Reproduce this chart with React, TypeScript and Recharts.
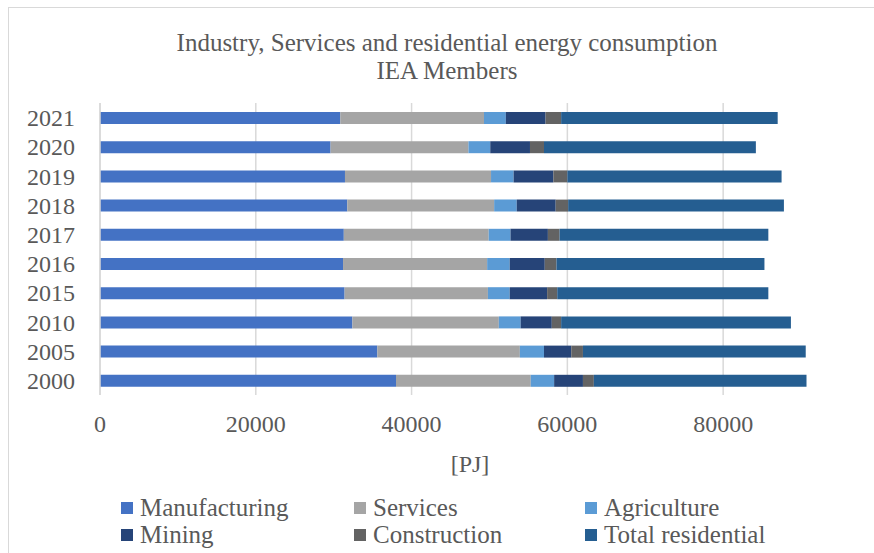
import { Bar, BarChart, CartesianGrid, XAxis, YAxis } from "recharts";

const years = ["2021", "2020", "2019", "2018", "2017", "2016", "2015", "2010", "2005", "2000"];
const manufacturing = [30850, 29600, 31450, 31750, 31300, 31200, 31400, 32400, 35600, 38000];
const services = [18450, 17700, 18750, 18850, 18600, 18500, 18400, 18800, 18300, 17300];
const agriculture = [2800, 2800, 2900, 2900, 2800, 2900, 2800, 2800, 3100, 3000];
const mining = [5100, 5100, 5100, 5000, 4800, 4500, 4800, 4000, 3500, 3700];
const construction = [2000, 1800, 1800, 1600, 1500, 1500, 1300, 1200, 1500, 1400];
const residential = [27800, 27200, 27500, 27700, 26800, 26700, 27100, 29500, 28600, 27300];
const xTicks = [0, 20000, 40000, 60000, 80000];

const series = [
  { key: "Manufacturing", values: manufacturing, color: "#4472C4" },
  { key: "Services", values: services, color: "#A5A5A5" },
  { key: "Agriculture", values: agriculture, color: "#5B9BD5" },
  { key: "Mining", values: mining, color: "#264478" },
  { key: "Construction", values: construction, color: "#636363" },
  { key: "Total residential", values: residential, color: "#255E91" }
];

const data = years.map((year, i) => {
  const row: Record<string, string | number> = { year };
  series.forEach((s) => {
    row[s.key] = s.values[i];
  });
  return row;
});

const font = "'Liberation Serif', 'DejaVu Serif', serif";
const textColor = "#595959";

// legend: 3 columns, 2 rows
const legendCols = [121, 354, 585];
const legendRows = [508, 535];

export default function App() {
  return (
    <div
      style={{
        position: "absolute",
        left: 0,
        top: 0,
        width: 874,
        height: 553,
        background: "#fff",
        fontFamily: font,
        overflow: "hidden"
      }}
    >
      <div
        style={{
          position: "absolute",
          left: 8,
          top: 7,
          width: 900,
          height: 600,
          borderLeft: "1.5px solid #d9d9d9",
          borderTop: "1.5px solid #d9d9d9"
        }}
      />
      <div
        style={{
          position: "absolute",
          left: 0,
          width: 894,
          top: 29,
          textAlign: "center",
          fontSize: 25,
          lineHeight: "28px",
          color: textColor
        }}
      >
        Industry, Services and residential energy consumption
        <br />
        IEA Members
      </div>
      <div style={{ position: "absolute", left: 0, top: 0 }}>
        <BarChart
          width={874}
          height={553}
          data={data}
          layout="vertical"
          margin={{ top: 103, right: 34, bottom: 118, left: 0 }}
          barCategoryGap={0}
        >
          <CartesianGrid horizontal={false} syncWithTicks stroke="#d9d9d9" strokeWidth={1.5} />
          <XAxis
            type="number"
            domain={[0, 95000]}
            ticks={xTicks}
            axisLine={false}
            tickLine={false}
            tickSize={6}
            tickMargin={14}
            height={40}
            tick={{ fill: textColor, fontSize: 24, fontFamily: font }}
          />
          <YAxis
            type="category"
            dataKey="year"
            width={100}
            interval={0}
            axisLine={{ stroke: "#d9d9d9", strokeWidth: 1.5 }}
            tickLine={false}
            tickSize={6}
            tickMargin={19}
            tick={{ fill: textColor, fontSize: 24, fontFamily: font }}
          />
          {series.map((s) => (
            <Bar
              key={s.key}
              dataKey={s.key}
              stackId="a"
              fill={s.color}
              barSize={12}
              isAnimationActive={false}
            />
          ))}
        </BarChart>
      </div>
      <div
        style={{
          position: "absolute",
          left: 370,
          width: 200,
          top: 451,
          textAlign: "center",
          fontSize: 24,
          color: textColor
        }}
      >
        [PJ]
      </div>
      {series.map((s, i) => (
        <div
          key={s.key}
          style={{
            position: "absolute",
            left: legendCols[i % 3],
            top: legendRows[Math.floor(i / 3)] - 14,
            height: 28,
            display: "flex",
            alignItems: "center",
            fontSize: 25,
            color: textColor,
            whiteSpace: "nowrap"
          }}
        >
          <span
            style={{
              display: "inline-block",
              width: 12,
              height: 12,
              background: s.color,
              marginRight: 7
            }}
          />
          {s.key}
        </div>
      ))}
    </div>
  );
}
